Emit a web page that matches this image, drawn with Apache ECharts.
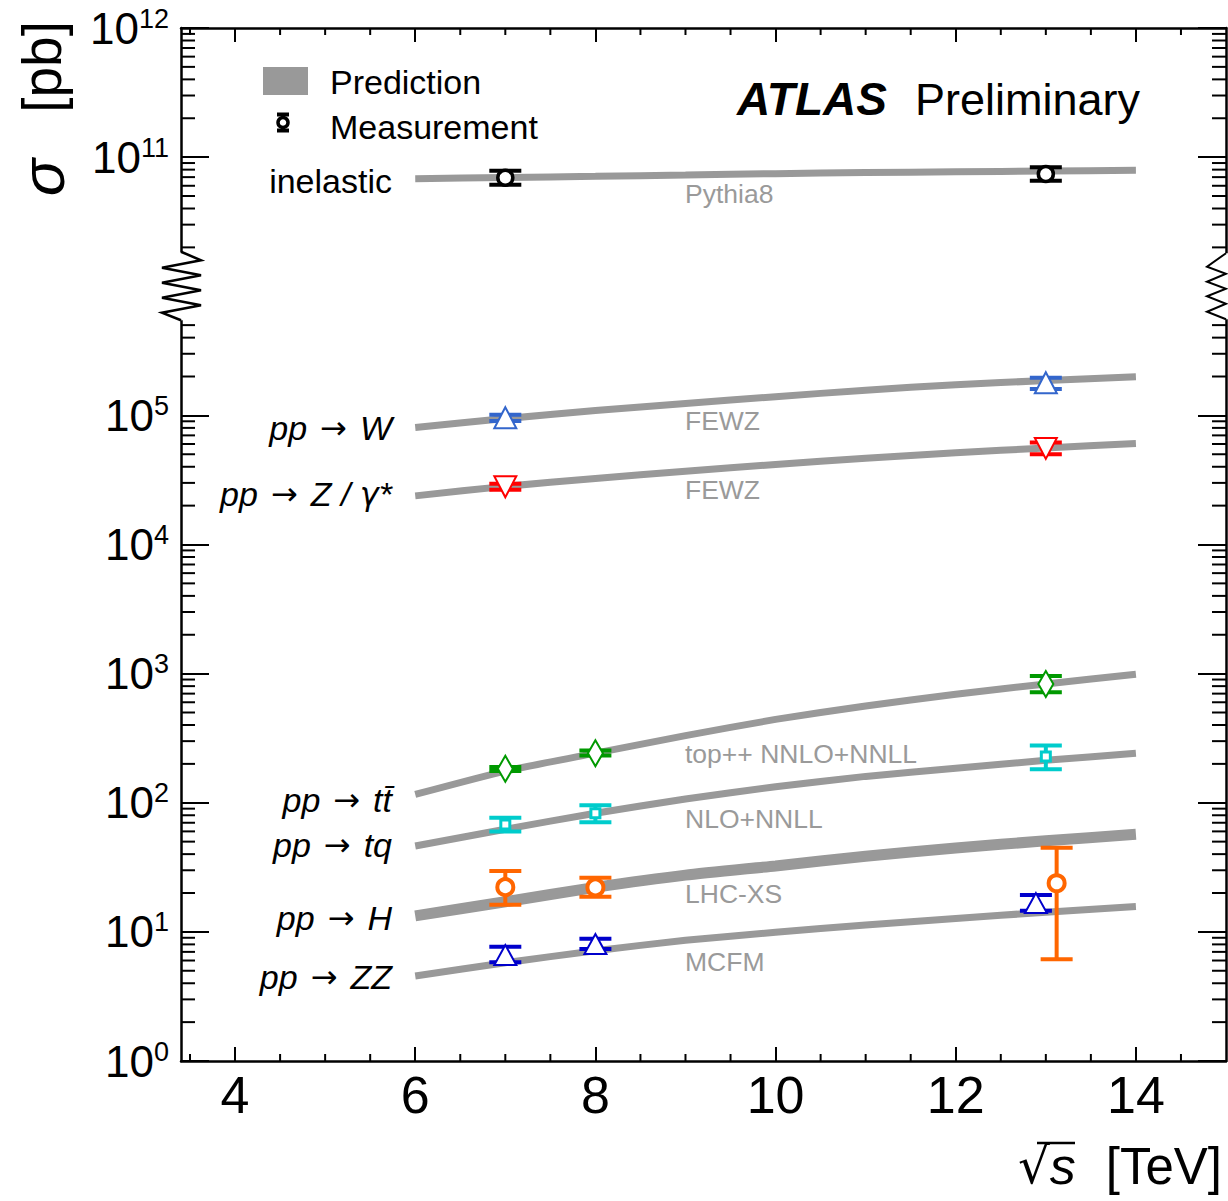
<!DOCTYPE html>
<html>
<head>
<meta charset="utf-8">
<script src="https://cdn.jsdelivr.net/npm/echarts@6/dist/echarts.min.js"></script>
<style>
html,body{margin:0;padding:0;background:#fff;}
#chart{width:1228px;height:1201px;}
</style>
</head>
<body>
<div id="chart"></div>
<script>
// ---------------- data ----------------
// sqrt(s) [TeV] at which the prediction curves were read
const predX = [6, 7, 8, 9, 10, 11, 12, 13, 14];
// predictions, sigma [pb]
const predInelastic = [6.8e10, 6.95e10, 7.1e10, 7.27e10, 7.45e10, 7.6e10, 7.7e10, 7.8e10, 7.9e10];
const predW  = [8.07e4, 9.44e4, 1.089e5, 1.236e5, 1.396e5, 1.567e5, 1.73e5, 1.86e5, 1.99e5];
const predZ  = [2.38e4, 2.82e4, 3.25e4, 3.69e4, 4.17e4, 4.66e4, 5.13e4, 5.6e4, 6.05e4];
const predTT = [116, 176, 242, 331, 442, 562, 692, 832, 989];
const predTQ = [46.2, 62.4, 83.0, 107, 133, 160, 185, 213, 242];
const predH  = [13.3, 17.1, 22.1, 27.5, 32.4, 38.5, 44.7, 50.7, 57.0];
const predZZ = [4.55, 5.77, 7.14, 8.61, 9.93, 11.3, 12.7, 14.2, 15.7];

// measurements: [sqrt(s), sigma, sigma_low, sigma_high]
const measInelastic = [[7, 6.92e10, 6.11e10, 7.83e10], [13, 7.4e10, 6.55e10, 8.35e10]];
const measW  = [[7, 9.6e4, 9.06e4, 1.01e5], [13, 1.79e5, 1.60e5, 1.96e5]];
const measZ  = [[7, 2.8e4, 2.65e4, 2.95e4], [13, 5.55e4, 5.0e4, 6.16e4]];
const measTT = [[7, 183, 176, 189], [8, 242, 232, 254], [13, 832, 718, 960]];
const measTQ = [[7, 68, 60, 76.5], [8, 83, 70.6, 95.7], [13, 228, 182, 277]];
const measH  = [[7, 22.2, 16.2, 29.6], [8, 22.1, 18.7, 26.2], [13.12, 23.8, 6.13, 44.9]];
const measZZ = [[7, 6.62, 5.82, 7.68], [8, 8.06, 7.37, 8.86], [12.89, 16.7, 14.6, 19.3]];

// axis tick values
const xMajorTicks = [4, 6, 8, 10, 12, 14];
const xMinorTicks = [3.5, 4.5, 5, 5.5, 6.5, 7, 7.5, 8.5, 9, 9.5, 10.5, 11, 11.5, 12.5, 13, 13.5, 14.5];

// labels
const processLabels = ['inelastic', 'pp → W', 'pp → Z / γ*', 'pp → tt̄', 'pp → tq', 'pp → H', 'pp → ZZ'];
const generatorLabels = ['Pythia8', 'FEWZ', 'FEWZ', 'top++ NNLO+NNLL', 'NLO+NNLL', 'LHC-XS', 'MCFM'];

// ---------------- broken axis mapping ----------------
// values above the break are drawn 4 decades lower (10^11 sits where 10^7 would be)
const BREAK_FACTOR = 1e4;
const BREAK_MIN = 1e9;       // real values above this belong to the upper section
const BREAK_AXIS = 1e6;      // axis value at the centre of the break
function toAxis(v) { return v >= BREAK_MIN ? v / BREAK_FACTOR : v; }
function fromAxis(v) { return v > BREAK_AXIS * 1.01 ? v * BREAK_FACTOR : v; }

// ---------------- styles ----------------
const FONT = "'Liberation Sans', Arial, Helvetica, sans-serif";
const SYM = "'DejaVu Sans', sans-serif";
const GREY = '#999999';
const X_MIN = 3.4, X_MAX = 15;
const Y_MIN = 1, Y_MAX = 1e8;

const measStyles = [
  {data: measInelastic, color: '#000000', marker: 'circle', r: 7.5, lw: 3.5},
  {data: measW,  color: '#3366cc', marker: 'triUp', w: 22, h: 21, lw: 2},
  {data: measZ,  color: '#ff0000', marker: 'triDown', w: 22, h: 21, lw: 2},
  {data: measTT, color: '#009900', marker: 'diamond', w: 15, h: 26, lw: 2},
  {data: measTQ, color: '#00cccc', marker: 'square', w: 9, h: 9, lw: 3},
  {data: measH,  color: '#ff6600', marker: 'circle', r: 8, lw: 4},
  {data: measZZ, color: '#0000cc', marker: 'triUp', w: 22, h: 20, lw: 2}
];
const predSeries = [
  {data: predInelastic, width: 7},
  {data: predW, width: 7},
  {data: predZ, width: 7},
  {data: predTT, width: 7},
  {data: predTQ, width: 7},
  {data: predH, width: 11},
  {data: predZZ, width: 7}
];

function markerShape(st, cx, cy) {
  const style = {fill: '#ffffff', stroke: st.color, lineWidth: st.lw};
  if (st.marker === 'circle') return {type: 'circle', shape: {cx: cx, cy: cy, r: st.r}, style: style};
  if (st.marker === 'square') return {type: 'rect', shape: {x: cx - st.w / 2, y: cy - st.h / 2, width: st.w, height: st.h}, style: style};
  let pts;
  if (st.marker === 'triUp') pts = [[cx, cy - st.h / 2], [cx + st.w / 2, cy + st.h / 2], [cx - st.w / 2, cy + st.h / 2]];
  else if (st.marker === 'triDown') pts = [[cx, cy + st.h / 2], [cx + st.w / 2, cy - st.h / 2], [cx - st.w / 2, cy - st.h / 2]];
  else pts = [[cx, cy - st.h / 2], [cx + st.w / 2, cy], [cx, cy + st.h / 2], [cx - st.w / 2, cy]];
  return {type: 'polygon', shape: {points: pts}, style: style};
}

function measRenderer(st) {
  return function (params, api) {
    const x = api.value(0);
    const c = api.coord([x, api.value(1)]);
    const lo = api.coord([x, api.value(2)]);
    const hi = api.coord([x, api.value(3)]);
    const hw = 16, th = 4;
    return {
      type: 'group',
      children: [
        {type: 'line', shape: {x1: c[0], y1: hi[1], x2: c[0], y2: lo[1]}, style: {stroke: st.color, lineWidth: 4}},
        {type: 'rect', shape: {x: c[0] - hw, y: hi[1] - th / 2, width: 2 * hw, height: th}, style: {fill: st.color}},
        {type: 'rect', shape: {x: c[0] - hw, y: lo[1] - th / 2, width: 2 * hw, height: th}, style: {fill: st.color}},
        markerShape(st, c[0], c[1])
      ]
    };
  };
}

// y minor ticks (2..9 x 10^k), hidden inside the break
const yMinorTicks = [];
for (let k = 0; k < 8; k++) {
  for (let m = 2; m <= 9; m++) {
    const v = m * Math.pow(10, k);
    if (v > 5.5e5 && v < 1.9e6) continue;
    yMinorTicks.push(v);
  }
}

const series = [];
predSeries.forEach(function (p) {
  series.push({
    type: 'line',
    name: 'Prediction',
    data: predX.map(function (x, i) { return [x, toAxis(p.data[i])]; }),
    smooth: 0.2,
    showSymbol: false,
    silent: true,
    lineStyle: {color: GREY, width: p.width, cap: 'butt'},
    z: 3
  });
});
measStyles.forEach(function (st) {
  series.push({
    type: 'custom',
    name: 'Measurement',
    data: st.data.map(function (d) { return [d[0], toAxis(d[1]), toAxis(d[2]), toAxis(d[3])]; }),
    encode: {x: 0, y: [1, 2, 3]},
    renderItem: measRenderer(st),
    clip: false,
    z: 5
  });
});
// minor ticks on the y axes (left & right, pointing inward)
series.push({
  type: 'custom',
  silent: true,
  data: yMinorTicks.map(function (v) { return [X_MIN, v]; }),
  encode: {x: 0, y: 1},
  clip: false,
  z: 6,
  renderItem: function (params, api) {
    const cs = params.coordSys;
    const y = api.coord([X_MIN, api.value(1)])[1];
    const s = {stroke: '#000', lineWidth: 2};
    return {type: 'group', children: [
      {type: 'line', shape: {x1: cs.x, y1: y, x2: cs.x + 14, y2: y}, style: s},
      {type: 'line', shape: {x1: cs.x + cs.width - 14, y1: y, x2: cs.x + cs.width, y2: y}, style: s}
    ]};
  }
});
// minor ticks on the x axes (bottom & top)
series.push({
  type: 'custom',
  silent: true,
  data: xMinorTicks.map(function (v) { return [v, Y_MIN]; }),
  encode: {x: 0, y: 1},
  clip: false,
  z: 6,
  renderItem: function (params, api) {
    const cs = params.coordSys;
    const x = api.coord([api.value(0), Y_MIN])[0];
    const s = {stroke: '#000', lineWidth: 2};
    return {type: 'group', children: [
      {type: 'line', shape: {x1: x, y1: cs.y + cs.height, x2: x, y2: cs.y + cs.height - 7}, style: s},
      {type: 'line', shape: {x1: x, y1: cs.y, x2: x, y2: cs.y + 7}, style: s}
    ]};
  }
});
// axis break zigzags
series.push({
  type: 'custom',
  silent: true,
  data: [[X_MIN, BREAK_AXIS]],
  encode: {x: 0, y: 1},
  clip: false,
  z: 10,
  renderItem: function (params, api) {
    const cs = params.coordSys;
    const yc = api.coord([X_MIN, BREAK_AXIS])[1];
    const L = cs.x, R = cs.x + cs.width;
    const left = [[0, -34.5], [20, -26], [-19, -18.5], [20, -11], [-19, -3.5], [20, 4], [-19, 11.5], [20, 19], [-19, 26.5], [0, 34]];
    const right = [[0, -33], [-19, -19.5], [0, -12.5], [-19, -4.5], [0, 2.5], [-19, 10], [0, 17.5], [-19, 25.5], [0, 33]];
    return {type: 'group', children: [
      {type: 'rect', shape: {x: L - 6, y: yc - 34, width: 34, height: 68}, style: {fill: '#fff'}},
      {type: 'rect', shape: {x: R - 30, y: yc - 33, width: 34, height: 66}, style: {fill: '#fff'}},
      {type: 'polyline', shape: {points: left.map(function (p) { return [L + p[0], yc + p[1]]; })}, style: {stroke: '#000', lineWidth: 2.5, fill: null}},
      {type: 'polyline', shape: {points: right.map(function (p) { return [R + p[0], yc + p[1]]; })}, style: {stroke: '#000', lineWidth: 2, fill: null}}
    ]};
  }
});

function yLabel(v) {
  const e = Math.round(Math.log10(v));
  if (e === 6) return '';
  const real = Math.round(Math.log10(fromAxis(Math.pow(10, e))));
  return '{b|10}{s|' + real + '}';
}

const chart = echarts.init(document.getElementById('chart'), null, {renderer: 'svg'});
const option = {
  animation: false,
  backgroundColor: '#ffffff',
  textStyle: {fontFamily: FONT},
  grid: {left: 181, right: 2, top: 28, bottom: 140, containLabel: false},
  xAxis: [
    {
      type: 'value', position: 'bottom', min: X_MIN, max: X_MAX,
      axisLine: {show: true, lineStyle: {color: '#000', width: 2.5}},
      axisTick: {show: true, inside: true, length: 14, customValues: xMajorTicks, lineStyle: {color: '#000', width: 2}},
      axisLabel: {show: true, customValues: xMajorTicks, margin: 8, fontSize: 52, color: '#000', fontFamily: FONT},
      splitLine: {show: false}
    },
    {
      type: 'value', position: 'top', min: X_MIN, max: X_MAX,
      axisLine: {show: true, lineStyle: {color: '#000', width: 2.5}},
      axisTick: {show: true, inside: true, length: 14, customValues: xMajorTicks, lineStyle: {color: '#000', width: 2}},
      axisLabel: {show: false},
      splitLine: {show: false}
    }
  ],
  yAxis: [
    {
      type: 'log', logBase: 10, position: 'left', min: Y_MIN, max: Y_MAX, interval: 1,
      axisLine: {show: true, lineStyle: {color: '#000', width: 2.5}},
      axisTick: {show: true, inside: true, length: 28, lineStyle: {color: '#000', width: 2}},
      axisLabel: {
        show: true, margin: 12, color: '#000', fontFamily: FONT,
        formatter: yLabel,
        rich: {
          b: {fontSize: 44, lineHeight: 46, fontFamily: FONT, color: '#000'},
          s: {fontSize: 27, lineHeight: 46, verticalAlign: 'top', fontFamily: FONT, color: '#000', padding: [0, 0, 14, 0]}
        }
      },
      splitLine: {show: false}
    },
    {
      type: 'log', logBase: 10, position: 'right', min: Y_MIN, max: Y_MAX, interval: 1,
      axisLine: {show: true, lineStyle: {color: '#000', width: 2.5}},
      axisTick: {show: true, inside: true, length: 28, lineStyle: {color: '#000', width: 2}},
      axisLabel: {show: false},
      splitLine: {show: false}
    }
  ],
  series: series
};
chart.setOption(option);

// ---------------- annotations (text, legend, titles) ----------------
const procY = [181, 428, 494, 800, 845, 918, 977];
const genY = [194, 421, 490, 754, 819, 894, 962];
const procRich = {
  i: {fontSize: 34, fontStyle: 'italic', fontFamily: FONT, fill: '#000'},
  r: {fontSize: 34, fontFamily: FONT, fill: '#000'},
  a: {fontSize: 32, fontFamily: SYM, fill: '#000'},
  w: {fontSize: 34, fontFamily: FONT, width: 13},
  g: {fontSize: 32, fontStyle: 'italic', fontFamily: SYM, fill: '#000'}
};
function procRichText(t) {
  if (t.indexOf('→') < 0) return '{r|' + t + '}';
  const parts = t.split('→');
  const rhs = parts[1].trim();
  const rhsRich = rhs.indexOf('γ') >= 0
    ? '{i|' + rhs.split('γ')[0] + '}{g|γ}{i|' + rhs.split('γ')[1] + '}'
    : '{i|' + rhs + '}';
  return '{i|' + parts[0].trim() + '}{w| }{a|→}{w| }' + rhsRich;
}
const graphics = [];
processLabels.forEach(function (t, i) {
  graphics.push({
    type: 'text', x: 392, y: procY[i], z: 20,
    style: {text: procRichText(t), rich: procRich, fill: '#000', font: '34px ' + FONT, align: 'right', verticalAlign: 'middle'}
  });
});
generatorLabels.forEach(function (t, i) {
  graphics.push({
    type: 'text', x: 685, y: genY[i], z: 20,
    style: {text: t, fill: '#9a9a9a', font: '26.5px ' + FONT, align: 'left', verticalAlign: 'middle'}
  });
});
// legend
graphics.push({type: 'rect', shape: {x: 263, y: 67, width: 45, height: 28}, style: {fill: GREY}, z: 20});
graphics.push({type: 'text', x: 330, y: 82, z: 20, style: {text: 'Prediction', fill: '#000', font: '34px ' + FONT, align: 'left', verticalAlign: 'middle'}});
graphics.push({type: 'line', shape: {x1: 283, y1: 114, x2: 283, y2: 132}, style: {stroke: '#000', lineWidth: 3.5}, z: 20});
graphics.push({type: 'rect', shape: {x: 277, y: 112.5, width: 12, height: 4}, style: {fill: '#000'}, z: 20});
graphics.push({type: 'rect', shape: {x: 277, y: 128.5, width: 12, height: 4}, style: {fill: '#000'}, z: 20});
graphics.push({type: 'circle', shape: {cx: 283, cy: 122.5, r: 5}, style: {fill: '#fff', stroke: '#000', lineWidth: 3.5}, z: 21});
graphics.push({type: 'text', x: 330, y: 127, z: 20, style: {text: 'Measurement', fill: '#000', font: '34px ' + FONT, align: 'left', verticalAlign: 'middle'}});
// ATLAS label
graphics.push({
  type: 'text', x: 1140, y: 99, z: 20,
  style: {
    text: '{a|ATLAS}{p|Preliminary}', align: 'right', verticalAlign: 'middle',
    rich: {
      a: {fontSize: 46, fontWeight: 'bold', fontStyle: 'italic', fontFamily: FONT, fill: '#000'},
      p: {fontSize: 45, fontFamily: FONT, fill: '#000', padding: [0, 0, 0, 28]}
    }
  }
});
// axis titles
graphics.push({
  type: 'text', x: 42, y: 21, rotation: Math.PI / 2, z: 20,
  style: {
    text: '{i|σ}{r|[pb]}', align: 'right', verticalAlign: 'middle',
    rich: {
      i: {fontSize: 62, fontStyle: 'italic', fontFamily: FONT, fill: '#000'},
      r: {fontSize: 55, fontFamily: FONT, fill: '#000', padding: [0, 0, 0, 46]}
    },
    font: '55px ' + FONT, fill: '#000'
  }
});
graphics.push({
  type: 'text', x: 1222, y: 1166, z: 20,
  style: {
    text: '{q|√}{i|s}{r|[TeV]}', align: 'right', verticalAlign: 'middle',
    font: '50px ' + FONT, fill: '#000',
    rich: {
      q: {fontSize: 50, fontFamily: SYM, fill: '#000'},
      i: {fontSize: 52, fontStyle: 'italic', fontFamily: FONT, fill: '#000'},
      r: {fontSize: 51, fontFamily: FONT, fill: '#000', padding: [0, 0, 0, 30]}
    }
  }
});
// radical overline above the "s"
graphics.push({type: 'line', shape: {x1: 1037, y1: 1143, x2: 1075, y2: 1143}, style: {stroke: '#000', lineWidth: 2.5}, z: 20});
chart.setOption({graphic: {elements: graphics}});
</script>
</body>
</html>
